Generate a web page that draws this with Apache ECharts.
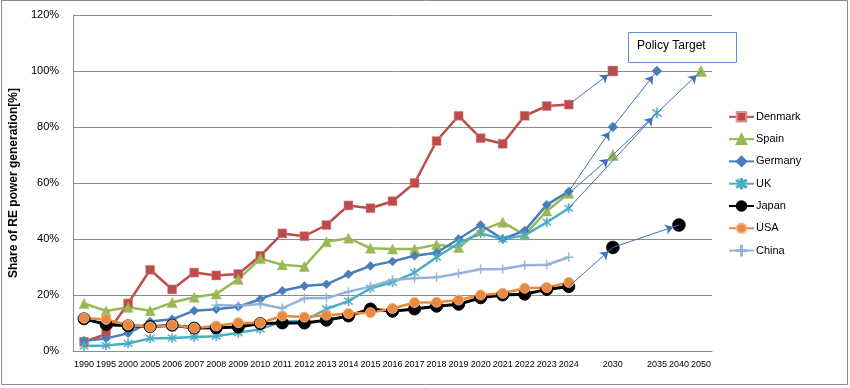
<!DOCTYPE html>
<html><head><meta charset="utf-8">
<script src="https://cdn.jsdelivr.net/npm/echarts@6/dist/echarts.min.js"></script>
<style>html,body{margin:0;padding:0;background:#fff}#c{width:850px;height:388px}</style>
</head><body><div id="c"></div>
<script>
// ---- data ----
const categories = ['1990','1995','2000','2005','2006','2007','2008','2009','2010','2011','2012','2013','2014','2015','2016','2017','2018','2019','2020','2021','2022','2023','2024','gap1','2030','gap2','2035','2040','2050'];
const histYears = ['1990','1995','2000','2005','2006','2007','2008','2009','2010','2011','2012','2013','2014','2015','2016','2017','2018','2019','2020','2021','2022','2023','2024'];
const denmark = [3.3, 6, 17, 29, 22, 28, 27, 27.5, 34, 42, 41, 45, 52, 51, 53.5, 60, 75, 84, 76, 74, 84, 87.5, 88];
const spain   = [17, 14.3, 15.6, 14.4, 17.3, 19.2, 20.4, 25.6, 33, 30.8, 30.2, 39, 40.3, 36.7, 36.4, 36.4, 38, 37, 43, 46, 41.5, 50, 56.3];
const germany = [3.7, 4.5, 6.3, 10.5, 11.3, 14.4, 14.9, 15.8, 18.5, 21.5, 23.2, 23.8, 27.4, 30.4, 32, 34, 35.1, 40, 45, 40, 43, 52.2, 57];
const uk      = [1.8, 2, 2.7, 4.5, 4.6, 5, 5.3, 6.5, 7.8, 10.5, 10.8, 15, 17.8, 22.4, 24.5, 28, 33.5, 38.5, 42, 40, 41.3, 46, 51];
const japan   = [11.5, 9.5, 9, 8.7, 9.2, 8.2, 8.3, 8.6, 9.8, 10, 10, 11, 12.5, 15, 14.2, 15, 16, 16.7, 19, 20, 20.3, 22, 23];
const usa     = [11.7, 11.3, 9.3, 8.6, 9.3, 8.2, 8.9, 10.1, 10, 12.5, 12.1, 12.8, 13.4, 13.7, 15.2, 17.3, 17.4, 18.2, 20, 20.6, 22.4, 22.7, 24.5];
const china   = [null, null, null, null, null, null, 16.4, 16.2, 16.8, 15.3, 18.8, 18.9, 21.2, 23, 25.4, 26, 26.3, 27.7, 29.2, 29.3, 30.6, 30.8, 33.5];
// policy targets [year, value]
const denmarkTarget = [['2030', 100]];
const spainTarget   = [['2030', 70], ['2050', 100]];
const germanyTarget = [['2030', 80], ['2035', 100]];
const ukTarget      = [['2035', 85]];
const japanTarget   = [['2030', 37], ['2040', 45]];
const yTicks = [0, 20, 40, 60, 80, 100, 120];

// ---- helpers ----
function full(hist){ return categories.map(c => { const i = histYears.indexOf(c); return i >= 0 ? hist[i] : null; }); }
function arrows(hist, targets){
  const pts = [[histYears[histYears.length-1], hist[hist.length-1]]].concat(targets);
  const segs = [];
  for (let i = 0; i < pts.length - 1; i++) segs.push([{coord: pts[i]}, {coord: pts[i+1]}]);
  return segs;
}
const ukStar = 'path://M-0.8,-8 L0.8,-8 L0.8,8 L-0.8,8 Z M5.09,6.23 L6.23,5.09 L-5.09,-6.23 L-6.23,-5.09 Z M-6.23,5.09 L-5.09,6.23 L6.23,-5.09 L5.09,-6.23 Z';
const plus = 'path://M-0.6,-6 L0.6,-6 L0.6,-0.6 L6,-0.6 L6,0.6 L0.6,0.6 L0.6,6 L-0.6,6 L-0.6,0.6 L-6,0.6 L-6,-0.6 L-0.6,-0.6 Z';

const defs = [
  {name:'Denmark', data:denmark, color:'#be4b48', border:'#d99694', symbol:'rect', size:9, width:2.5, targets:denmarkTarget, tsize:10},
  {name:'Spain', data:spain, color:'#98b954', border:'#98b954', symbol:'triangle', size:10, width:2.5, targets:spainTarget, tsize:11},
  {name:'Germany', data:germany, color:'#4a7ebb', border:'#4a7ebb', symbol:'diamond', size:9, width:2.5, targets:germanyTarget, tsize:10},
  {name:'UK', data:uk, color:'#4bacc6', border:'#4bacc6', symbol:ukStar, size:9, width:2.5, targets:ukTarget, tsize:10},
  {name:'Japan', data:japan, color:'#000000', border:'#000000', symbol:'circle', size:12, width:3, targets:japanTarget, tsize:13},
  {name:'USA', data:usa, color:'#e8893f', border:'#f4b183', symbol:'circle', size:10, width:2.5, targets:[], tsize:10},
  {name:'China', data:china, color:'#95b3d7', border:'#95b3d7', symbol:plus, size:9, width:2.5, targets:[], tsize:9}
];

const series = [];
defs.forEach(d => {
  series.push({
    name:d.name, type:'line', data:full(d.data), symbol:d.symbol, symbolSize:d.size,
    showAllSymbol:true, connectNulls:false,
    lineStyle:{color:d.color, width:d.width},
    itemStyle:{color:d.color, borderColor:d.border, borderWidth:d.symbol==='circle'?1:0.5, opacity:1},
    emphasis:{disabled:true}, z:3
  });
});
defs.forEach(d => {
  if (!d.targets.length) return;
  series.push({
    name:d.name + ' target', type:'scatter', data:d.targets, symbol:d.symbol, symbolSize:d.tsize,
    itemStyle:{color:d.color, borderColor:d.border, borderWidth:0.5, opacity:1}, z:4,
    emphasis:{disabled:true},
    markLine:{silent:true, symbol:['none','arrow'], symbolSize:8, symbolOffset:[[0,0],[0,6]], animation:false,
      lineStyle:{color:'#3f73b4', width:1, type:'solid', opacity:1}, itemStyle:{color:'#3f73b4'}, label:{show:false},
      emphasis:{disabled:true}, data:arrows(d.data, d.targets)}
  });
});

const chart = echarts.init(document.getElementById('c'), null, {renderer:'canvas'});
chart.setOption({
  animation:false,
  textStyle:{fontFamily:'Liberation Sans, Arial, sans-serif'},
  grid:{left:67, right:138, top:15, bottom:37},
  legend:{
    data:defs.map(d=>d.name), orient:'vertical', left:723, top:106,
    itemWidth:25, itemHeight:12, itemGap:10.7, selectedMode:false,
    textStyle:{fontSize:11, color:'#000', padding:[0,0,0,-3]}
  },
  xAxis:{
    type:'category', data:categories, boundaryGap:true,
    axisLine:{lineStyle:{color:'#8c8c8c', width:1}}, axisTick:{show:false},
    axisLabel:{interval:0, fontSize:9, color:'#000', margin:9,
      formatter:v => v.indexOf('gap')===0 ? '' : v}
  },
  yAxis:{
    type:'value', min:yTicks[0], max:yTicks[yTicks.length-1], interval:20,
    name:'Share of RE power generation[%]', nameLocation:'middle', nameGap:50, nameRotate:90,
    nameTextStyle:{fontSize:12, fontWeight:'bold', color:'#000'},
    axisLine:{show:true, lineStyle:{color:'#8c8c8c'}}, axisTick:{show:false},
    axisLabel:{formatter:'{value}%', fontSize:11, color:'#000', margin:14},
    splitLine:{lineStyle:{color:'#8c8c8c', width:1}}
  },
  graphic:[
    {type:'rect', shape:{x:1.5, y:0.5, width:846, height:384}, style:{fill:'none', stroke:'#8c8c8c', lineWidth:1}, silent:true},
    {type:'rect', shape:{x:628.5, y:32.5, width:108, height:30}, style:{fill:'#fff', stroke:'#5b8fd0', lineWidth:1}, silent:true, z:10},
    {type:'text', left:637, top:40, style:{text:'Policy Target', fontSize:12, fill:'#000', fontFamily:'Liberation Sans, Arial, sans-serif'}, silent:true, z:11}
  ],
  series:series
});
</script>
</body></html>
